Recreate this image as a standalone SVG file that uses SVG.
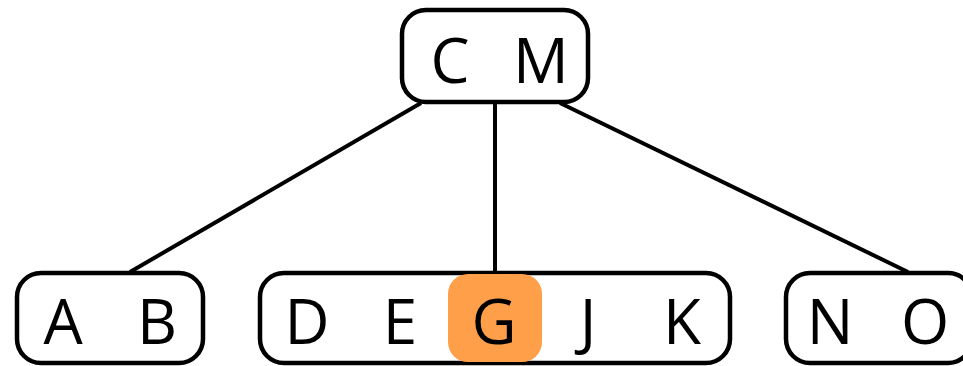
<svg xmlns="http://www.w3.org/2000/svg" width="963" height="366" viewBox="0 0 963 366">
<style>
.box{fill:#fff;stroke:#000;stroke-width:4.5}
.t{font-family:"Open Sans","Noto Sans",sans-serif;font-size:62px;fill:#000;text-anchor:middle}
.e{stroke:#000;stroke-width:4;fill:none}
</style>
<rect width="963" height="366" fill="#fff"/>
<g id="edges">
<line class="e" x1="421" y1="103" x2="130" y2="272"/>
<line class="e" x1="495" y1="103" x2="495" y2="272"/>
<line class="e" x1="560" y1="103" x2="908" y2="272"/>
</g>
<g id="root">
<rect class="box" x="402" y="10" width="186" height="92" rx="24"/>
<text class="t" x="450" y="83" textLength="30">C</text>
<text class="t" x="541" y="83" textLength="44">M</text>
</g>
<g id="left">
<rect class="box" x="17" y="273" width="186" height="90" rx="24"/>
<text class="t" x="63" y="344">A</text>
<text class="t" x="157" y="344">B</text>
</g>
<g id="middle">
<rect class="box" x="260" y="273" width="470" height="90" rx="24"/>
<rect x="448" y="274" width="94" height="88" rx="20" fill="#ff9f4a"/>
<text class="t" x="307" y="344">D</text>
<text class="t" x="400" y="344">E</text>
<text class="t" x="494" y="344">G</text>
<text class="t" x="588" y="344">J</text>
<text class="t" x="682" y="344">K</text>
</g>
<g id="right">
<rect class="box" x="786" y="273" width="186" height="90" rx="24"/>
<text class="t" x="830" y="344">N</text>
<text class="t" x="925" y="344">O</text>
</g>
</svg>
